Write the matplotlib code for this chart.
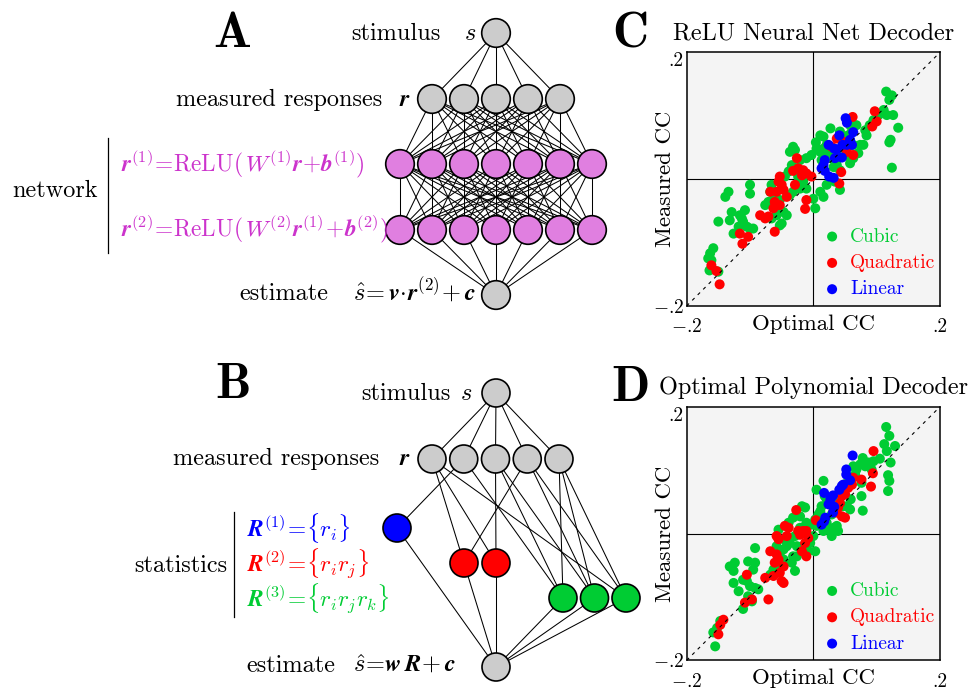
import io
import matplotlib
matplotlib.use("Agg")
import matplotlib.pyplot as plt
from matplotlib.patches import Circle
from matplotlib.lines import Line2D
from matplotlib import mathtext

plt.rcParams['font.family'] = ['cmr10', 'DejaVu Serif']
plt.rcParams['mathtext.fontset'] = 'cm'
plt.rcParams['axes.unicode_minus'] = False

try:
    mathtext.math_to_image(r'$\boldsymbol{r}$', io.BytesIO(), dpi=72, format='png')
    BS = r'\boldsymbol'
except Exception:
    BS = r'\mathbf'

def M(s):
    return s.replace(r'\boldsymbol', BS)

# ---------------- data: panel C (ReLU neural net decoder) ----------------
c_cubic_x = [.115, .124, .120, .111, .116, .126, .134, .122, .120, .124, .103, .095, .089, .082, .084,
             .079, .071, .063, .058, .053, .047, .055, .068, .061, .027, .011, .016, .004, .005, -.003,
             -.011, -.021, -.032, -.029, -.037, -.034, -.026, -.039, -.045, -.016, -.021, -.024, -.011,
             .000, .003, .011, .016, .021, .034, .042, .037, .029, .024, .042, .032, .016, .021, .011,
             .013, .037, .063, .074, .050, .058, .042,
             -.134, -.139, -.100, -.100, -.066, -.068, -.071, -.076, -.063, -.053, -.053, -.047, -.042,
             -.058, -.066, -.053, -.050, -.129, -.132, -.150, -.116, -.113, -.108, -.111, -.105, -.100,
             -.095, -.126, -.118, -.158, -.163, -.166, -.161, -.164, -.150, -.024, -.032, -.037]
c_cubic_y = [.138, .132, .125, .109, .101, .101, .081, .062, .058, .018, .101, .093, .085, .077, .069,
             .054, .041, .033, .025, .038, .054, .069, .085, .075, .080, .069, .067, .058, .048, .038,
             .033, .030, .051, .046, .043, .022, .017, .012, .004, -.004, -.015, -.009, -.015,
             -.031, -.046, -.020, -.028, -.009, -.004, -.017, .022, .033, .038, .014, .019, .048, .054, .043,
             .030, .043, .054, .054, .064, .085, .075,
             -.020, -.028, -.009, -.023, -.009, -.020, -.036, -.041, -.033, -.033, -.046, -.052, -.057,
             -.057, -.062, -.073, -.070, -.052, -.065, -.067, -.057, -.062, -.049, -.067, -.075, -.078,
             -.078, -.086, -.075, -.109, -.117, -.125, -.128, -.144, -.146, .004, -.020, -.025]
c_quad_x = [.097, .062, .100, .093, .037, .047, .058, .063, .044, .041, -.026, -.032, -.024, -.016,
            -.011, -.003, -.018, -.029, -.053, -.055, -.050, -.047, -.068, -.058, -.042, -.061, -.053,
            -.063, -.084, -.076, -.071, -.061, -.011, -.013, -.116, -.103, -.112, -.161, -.153, -.148,
            .053, .029]
c_quad_y = [.107, .098, .091, .083, .064, .059, .054, .038, .011, -.007, .033, .013, .017, .014,
            .009, .004, .006, -.009, .004, -.004, -.009, -.017, -.020, -.020, -.028, -.036, -.041,
            -.046, -.057, -.062, -.059, -.083, -.033, -.047, -.086, -.091, -.102, -.136, -.145, -.166,
            .043, .051]
c_lin_x = [.051, .053, .041, .063, .058, .046, .061, .024, .033, .034, .045, .018, .016, .013, .018,
           .025, .032, .037, .053]
c_lin_y = [.096, .089, .069, .074, .062, .054, .054, .054, .048, .033, .034, .030, .022, .017, .013,
           .004, .002, .047, .054]

# ---------------- data: panel D (optimal polynomial decoder) ----------------
d_cubic_x = [.115, .120, .112, .129, .116, .122, .105, .095, .087, .082, .078, .074, .068, .066, .092,
             .118, .120, .118, .076, .078, .059, .058, .053, .047, .037, .032, .016, .005, .018, .013,
             .011, .021, .029, .008, .003, .021, .024, .032, .037, .039, .029, .016, .005, -.003, -.011,
             -.016, -.021, -.018, -.013, -.021, -.032, -.039, -.055, -.047, -.042, -.037, -.029, -.026,
             -.032, -.026, -.034, -.029, -.047, -.053, -.058, -.047, -.053, -.063, -.068, -.092, -.103,
             -.092, -.095, -.124, -.126, -.132, -.111, -.105, -.100, -.092, -.087, -.126, -.118, -.103,
             -.097, -.111, .000, .003, -.008, -.005, -.016, -.147, -.152, -.158, -.155, .063, .076, .055]
d_cubic_y = [.168, .154, .141, .138, .130, .112, .118, .114, .112, .106, .119, .109, .101, .093, .101,
             .092, .083, .067, .059, .036, .054, .038, .043, .043, .048, .038, .083, .069, .059, .043,
             .035, .054, .030, .030, .022, .017, .006, .009, .012, .004, -.004, .004, .012, .014, .017,
             .009, .009, .043, .041, .027, .025, .017, .006, -.009, -.020, -.015, -.004, -.020,
             -.036, -.036, -.046, -.059, -.025, -.031, -.020, -.041, -.054, -.057, -.065, -.023, -.044,
             -.046, -.057, -.046, -.059, -.052, -.073, -.075, -.083, -.086, -.088, -.078, -.091, -.099,
             -.107, -.119, -.004, -.028, -.028, -.015, -.020, -.138, -.149, -.156, -.178, .106, .080, .083]
d_quad_x = [.095, .094, .091, .076, .063, .061, .055, .050, .045, .042, .039, .037, .045, .050, .032,
            .004, -.027, -.045, -.039, -.042, -.058, -.055, -.024, -.021, -.016, -.011, -.008, -.013,
            -.018, -.011, -.068, -.058, -.055, -.061, -.047, -.053, -.076, -.063, -.050, -.047, -.105,
            -.108, -.097, -.071, -.142, -.147, -.150]
d_quad_y = [.130, .095, .074, .085, .088, .077, .072, .062, .059, .048, .041, .033, .027, .025, .035,
            .021, .037, .012, .009, -.004, -.004, -.009, .004, -.002, .004, .004, -.007, -.015,
            -.028, -.036, -.028, -.033, -.041, -.046, -.052, -.062, -.070, -.067, -.075, -.078, -.065,
            -.109, -.104, -.104, -.136, -.144, -.159]
d_lin_x = [.062, .052, .052, .058, .047, .045, .041, .017, .031, .027, .024, .033, .031, .019, .017, .013]
d_lin_y = [.123, .101, .093, .084, .077, .075, .069, .064, .060, .054, .046, .042, .033, .025, .019, .014]

legend_labels = ['Cubic', 'Quadratic', 'Linear']
series_colors = ['#00cc33', '#ff0000', '#0000ff']
tick_vals = [-0.2, 0.2]
tick_text = [r'$-$.2', '.2']

# ---------------- network structure ----------------
net_layers = [1, 5, 7, 7, 1]           # stimulus, responses, hidden1, hidden2, estimate
stat_inputs = [[2], [1, 4], [1, 3], [2, 3, 5], [3, 4, 5], [1, 4, 5]]   # 1-indexed responses
stat_colors = ['#0000ff', '#ff0000', '#ff0000', '#00cc33', '#00cc33', '#00cc33']

GRAY = '#cccccc'
PINK = '#e07fe0'
MAG = '#cc33cc'
FS = 17.5
FSM = 16.8

W, H = 972, 692
fig = plt.figure(figsize=(W / 100, H / 100), dpi=100)
ax0 = fig.add_axes([0, 0, 1, 1])
ax0.set_xlim(0, W)
ax0.set_ylim(H, 0)
ax0.axis('off')

def node(x, y, fc, r=14.3):
    ax0.add_patch(Circle((x, y), r, facecolor=fc, edgecolor='black', lw=1.2, zorder=3))

def edge(p, q):
    ax0.add_line(Line2D([p[0], q[0]], [p[1], q[1]], color='black', lw=0.75, zorder=2))

# ---------------- panel A ----------------
rowsA = [33, 99, 164, 230, 295]
cx, sp = 496, 32
posA = []
for n, y in zip(net_layers, rowsA):
    posA.append([(cx + (i - (n - 1) / 2) * sp, y) for i in range(n)])
for l in range(len(posA) - 1):
    for p in posA[l]:
        for q in posA[l + 1]:
            edge(p, q)
fillsA = [GRAY, GRAY, PINK, PINK, GRAY]
for l, layer in enumerate(posA):
    for (x, y) in layer:
        node(x, y, fillsA[l])

ax0.text(232, 47, 'A', fontsize=36, family='cmb10', ha='center', va='baseline')
ax0.text(441, 40, 'stimulus', fontsize=FS, ha='right', va='baseline')
ax0.text(476, 40, r'$s$', fontsize=FS, ha='right', va='baseline')
ax0.text(382, 106, 'measured responses', fontsize=FS, ha='right', va='baseline')
ax0.text(411, 106, M(r'$\boldsymbol{r}$'), fontsize=FS, ha='right', va='baseline')
ax0.text(12, 197, 'network', fontsize=FS, ha='left', va='baseline')
ax0.add_line(Line2D([108, 108], [138, 253], color='black', lw=0.9))
ax0.text(121, 171, M(r'$\boldsymbol{r}^{(1)}\!=\!\mathrm{ReLU}(\,W^{(1)}\boldsymbol{r}\!+\!\boldsymbol{b}^{(1)})$'),
         fontsize=FSM, color=MAG, ha='left', va='baseline')
ax0.text(121, 236, M(r'$\boldsymbol{r}^{(2)}\!=\!\mathrm{ReLU}(\,W^{(2)}\boldsymbol{r}^{(1)}\!+\!\boldsymbol{b}^{(2)})$'),
         fontsize=FSM, color=MAG, ha='left', va='baseline')
ax0.text(239, 300, 'estimate', fontsize=FS, ha='left', va='baseline')
ax0.text(353, 300, M(r'$\hat{s}\!=\boldsymbol{v}\!\cdot\!\boldsymbol{r}^{(2)}\!+\boldsymbol{c}$'),
         fontsize=FS, ha='left', va='baseline')

# ---------------- panel B ----------------
stimB = (496, 393)
respB = [(432 + 31.75 * i, 459) for i in range(5)]
statB = [(397, 528), (464, 563), (496, 563), (563, 598), (594.5, 598), (626, 598)]
estB = (496, 667)
for p in respB:
    edge(stimB, p)
for s, ins in zip(statB, stat_inputs):
    for k in ins:
        edge(respB[k - 1], s)
    edge(s, estB)
node(*stimB, GRAY, 14)
for p in respB:
    node(*p, GRAY, 14)
for s, c in zip(statB, stat_colors):
    node(*s, c, 14)
node(*estB, GRAY, 14)

ax0.text(233, 398, 'B', fontsize=36, family='cmb10', ha='center', va='baseline')
ax0.text(451, 400, 'stimulus', fontsize=FS, ha='right', va='baseline')
ax0.text(472, 400, r'$s$', fontsize=FS, ha='right', va='baseline')
ax0.text(379, 465, 'measured responses', fontsize=FS, ha='right', va='baseline')
ax0.text(411, 465, M(r'$\boldsymbol{r}$'), fontsize=FS, ha='right', va='baseline')
ax0.text(227, 572, 'statistics', fontsize=FS, ha='right', va='baseline')
ax0.add_line(Line2D([234, 234], [512, 617], color='black', lw=0.9))
ax0.text(247, 537, M(r'$\boldsymbol{R}^{(1)}\!=\!\{r_i\}$'), fontsize=FSM, color='#0000ff', ha='left', va='baseline')
ax0.text(247, 572, M(r'$\boldsymbol{R}^{(2)}\!=\!\{r_ir_j\}$'), fontsize=FSM, color='#ff0000', ha='left', va='baseline')
ax0.text(247, 607, M(r'$\boldsymbol{R}^{(3)}\!=\!\{r_ir_jr_k\}$'), fontsize=FSM, color='#00cc33', ha='left', va='baseline')
ax0.text(246, 672, 'estimate', fontsize=FS, ha='left', va='baseline')
ax0.text(353, 672, M(r'$\hat{s}\!=\!\boldsymbol{w}\,\boldsymbol{R}\!+\boldsymbol{c}$'),
         fontsize=FS, ha='left', va='baseline')

# ---------------- scatter panels ----------------
def scatter_panel(top, title, letter, series):
    ax = fig.add_axes([686.7 / W, 1 - (top + 253.6) / H, 253.3 / W, 253.6 / H])
    ax.set_facecolor('#f4f4f4')
    ax.set_xlim(-0.2, 0.2)
    ax.set_ylim(-0.2, 0.2)
    ax.axhline(0, color='black', lw=0.8, zorder=1)
    ax.axvline(0, color='black', lw=0.8, zorder=1)
    for (xs, ys), col, lab in zip(series, series_colors, legend_labels):
        ax.scatter(xs, ys, s=52, color=col, edgecolors='none', label=lab, zorder=2)
    ax.plot([-0.2, 0.2], [-0.2, 0.2], ls=(0, (3, 4)), color='black', lw=0.8, zorder=3)
    for sp_ in ax.spines.values():
        sp_.set_linewidth(1.1)
    ax.set_xticks(tick_vals, labels=tick_text)
    ax.set_yticks(tick_vals, labels=tick_text)
    ax.tick_params(length=0, labelsize=14, pad=2)
    ax.tick_params(axis='x', pad=9)
    ax.get_yticklabels()[1].set_va('top')
    ax.set_xlabel('Optimal CC', fontsize=16.5)
    ax.set_ylabel('Measured CC', fontsize=16.5)
    ax.xaxis.set_label_coords(0.5, -0.072)
    ax.xaxis.label.set_va('center')
    ax.yaxis.set_label_coords(-0.086, 0.5)
    ax.yaxis.label.set_va('center')
    ax.set_title(title, fontsize=FS, pad=9)
    ax.legend(loc='lower left', bbox_to_anchor=(0.551, 0.03), frameon=False, fontsize=14,
              handlelength=0.6, handletextpad=0.63, borderpad=0, borderaxespad=0,
              labelspacing=0.43, labelcolor=series_colors, scatterpoints=1)
    ax0.text(630, top - 5.3, letter, fontsize=36, family='cmb10', ha='center', va='baseline')
    return ax

scatter_panel(52.3, 'ReLU Neural Net Decoder', 'C',
              [(c_cubic_x, c_cubic_y), (c_quad_x, c_quad_y), (c_lin_x, c_lin_y)])
scatter_panel(406.7, 'Optimal Polynomial Decoder', 'D',
              [(d_cubic_x, d_cubic_y), (d_quad_x, d_quad_y), (d_lin_x, d_lin_y)])

fig.savefig('out.png', dpi=100)
